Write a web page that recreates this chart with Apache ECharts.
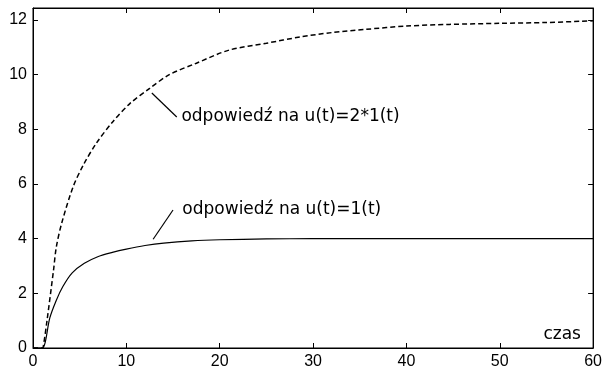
<!DOCTYPE html>
<html>
<head>
<meta charset="utf-8">
<script src="https://cdn.jsdelivr.net/npm/echarts@6/dist/echarts.min.js"></script>
<style>html,body{margin:0;padding:0;background:#fff}#c{width:605px;height:372px}</style>
</head>
<body>
<div id="c"></div>
<script>
// time axis values and responses
var timeSolid = [0, 1, 1.3, 1.8, 2.5, 3.2, 4.2, 5.5, 7, 8.5, 10, 12, 14, 17, 20, 25, 30, 40, 50, 60];
var solidValues = [0, 0, 0.2, 1.1, 1.75, 2.25, 2.75, 3.1, 3.35, 3.5, 3.62, 3.75, 3.84, 3.92, 3.96, 3.99, 4.0, 4.0, 4.0, 4.0];
var timeDashed = [0, 1, 1.1, 1.5, 2.2, 2.5, 3.1, 4.3, 5.4, 6.8, 8.6, 10.4, 12.5, 14.6, 17.5, 21, 25, 28.6, 32, 35.7, 40, 44.6, 50, 55, 60];
var dashedValues = [0, 0, 0.05, 1.0, 2.85, 3.7, 4.6, 5.9, 6.7, 7.5, 8.3, 8.95, 9.5, 10.0, 10.42, 10.9, 11.15, 11.38, 11.54, 11.66, 11.78, 11.84, 11.88, 11.91, 11.97];
var xTicks = [0, 10, 20, 30, 40, 50, 60];
var yTicks = [0, 2, 4, 6, 8, 10, 12];
var labelUpper = 'odpowiedź na u(t)=2*1(t)';
var labelLower = 'odpowiedź na u(t)=1(t)';
var labelUpperAt = [15.9, 8.45];
var labelLowerAt = [16.0, 5.07];
var leaderUpper = [[12.73, 9.33], [15.4, 8.45]];
var leaderLower = [[12.87, 3.98], [15.0, 5.05]];
var xLabelText = 'czas';
var xLabelAt = [58.7, 0.48];

function pairs(t, v) { return t.map(function (x, i) { return [x, v[i]]; }); }

var chart = echarts.init(document.getElementById('c'), null, { renderer: 'canvas' });
var axisCommon = {
  axisLine: { show: true, onZero: false, lineStyle: { color: '#000', width: 1 } },
  axisTick: { show: true, inside: true, length: 5, lineStyle: { color: '#000' } },
  splitLine: { show: false }
};
var tickFont = { color: '#000', fontFamily: 'Liberation Sans', fontSize: 16 };
var annFont = { color: '#000', fontFamily: 'DejaVu Sans', fontSize: 17 };

chart.setOption({
  animation: false,
  backgroundColor: '#fff',
  grid: { left: 33, right: 11, top: 8, bottom: 24, show: true, borderColor: '#000', borderWidth: 1, containLabel: false },
  xAxis: [
    Object.assign({ type: 'value', min: 0, max: 60, interval: 10, position: 'bottom',
      axisLabel: Object.assign({ margin: 6, formatter: function (v) { return xTicks.indexOf(v) >= 0 ? String(v) : ''; } }, tickFont) }, axisCommon),
    Object.assign({ type: 'value', min: 0, max: 60, interval: 10, position: 'top', axisLabel: { show: false } }, axisCommon)
  ],
  yAxis: [
    Object.assign({ type: 'value', min: 0, max: 12.44, interval: 2, position: 'left', showMaxLabel: false,
      axisLabel: Object.assign({ margin: 6, showMaxLabel: false, formatter: function (v) { return yTicks.indexOf(v) >= 0 ? String(v) : ''; } }, tickFont) }, axisCommon),
    Object.assign({ type: 'value', min: 0, max: 12.44, interval: 2, position: 'right', axisLabel: { show: false } }, axisCommon)
  ],
  series: [
    {
      type: 'line', xAxisIndex: 0, yAxisIndex: 0, data: pairs(timeSolid, solidValues),
      showSymbol: false, symbol: 'none', smooth: 0.3,
      lineStyle: { color: '#000', width: 1.2, type: 'solid' },
      markLine: {
        silent: true, symbol: ['none', 'none'], label: { show: false },
        lineStyle: { color: '#000', width: 1.2, type: 'solid' },
        data: [[{ coord: leaderLower[0] }, { coord: leaderLower[1] }]]
      },
      markPoint: {
        symbol: 'circle', symbolSize: 0, silent: true,
        label: Object.assign({ show: true, position: 'right', distance: 0, align: 'left', verticalAlign: 'middle' }, annFont),
        data: [
          { coord: labelLowerAt, value: labelLower, label: { formatter: labelLower } },
          { coord: xLabelAt, value: xLabelText, label: { formatter: xLabelText, position: 'left', align: 'right' } }
        ]
      }
    },
    {
      type: 'line', xAxisIndex: 0, yAxisIndex: 0, data: pairs(timeDashed, dashedValues),
      showSymbol: false, symbol: 'none', smooth: 0.3,
      lineStyle: { color: '#000', width: 1.5, type: [5, 3] },
      markLine: {
        silent: true, symbol: ['none', 'none'], label: { show: false },
        lineStyle: { color: '#000', width: 1.2, type: 'solid' },
        data: [[{ coord: leaderUpper[0] }, { coord: leaderUpper[1] }]]
      },
      markPoint: {
        symbol: 'circle', symbolSize: 0, silent: true,
        label: Object.assign({ show: true, position: 'right', distance: 0, align: 'left', verticalAlign: 'middle' }, annFont),
        data: [{ coord: labelUpperAt, value: labelUpper, label: { formatter: labelUpper } }]
      }
    }
  ]
});
</script>
</body>
</html>
